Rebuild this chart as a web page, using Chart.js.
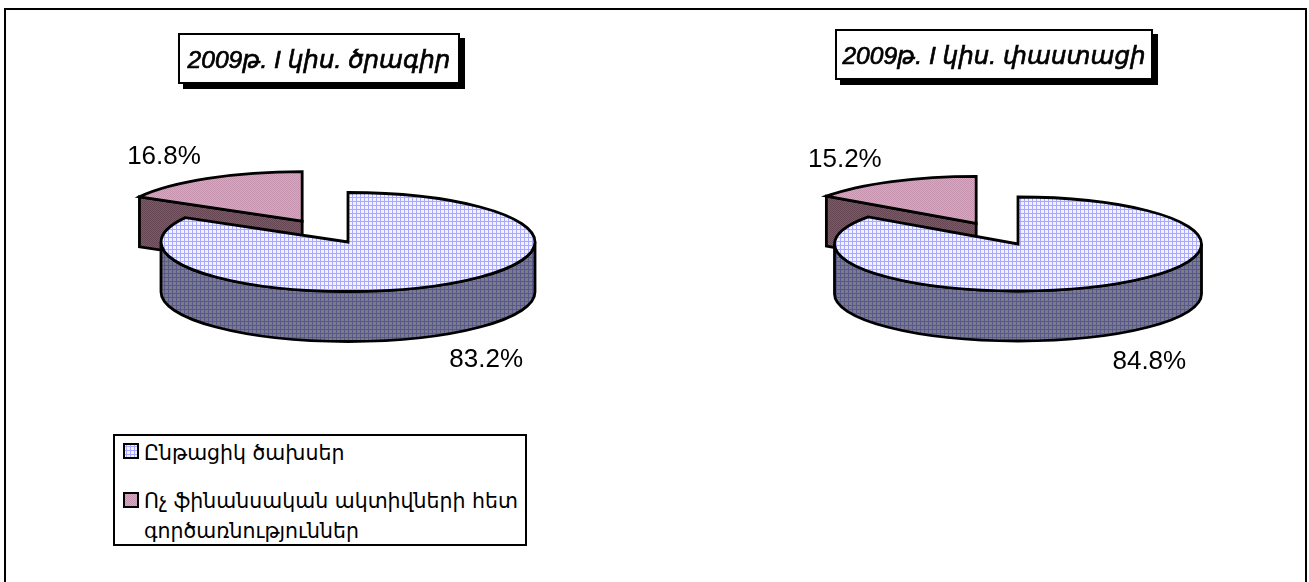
<!DOCTYPE html>
<html lang="hy">
<head>
<meta charset="utf-8">
<title>2009թ. I կիս.</title>
<script src="https://cdn.jsdelivr.net/npm/chart.js@4"></script>
<style>
  html, body { margin: 0; padding: 0; background: #fff; width: 1309px; height: 582px; overflow: hidden; }
  #frame { position: absolute; left: 4px; top: 8px; width: 1299px; height: 600px; border: 2px solid #000; }
  canvas { position: absolute; }
  .title { position: absolute; box-sizing: border-box; background: #fff; border: 2px solid #000;
           box-shadow: 5px 5px 0 #000; font: italic 24.6px "Liberation Sans", "DejaVu Sans", sans-serif; -webkit-text-stroke: 0.7px #000;
           color: #000; white-space: nowrap; text-align: center; }
  #legend { position: absolute; left: 113px; top: 434px; width: 414px; height: 112px; box-sizing: border-box;
            border: 2px solid #000; background: #fff; color: #000; font: 20.5px "DejaVu Sans", sans-serif; }
  #legend .swatch { position: absolute; left: 8px; width: 12px; height: 12px; border: 2px solid #000; }
  #legend .text { position: absolute; left: 29px; white-space: nowrap; line-height: 30px; }
</style>
</head>
<body>
<div id="frame"></div>
<canvas id="pieA" width="698" height="484" style="left:-1px;top:0"></canvas>
<canvas id="pieB" width="582" height="488" style="left:727px;top:0"></canvas>
<div class="title" id="titleA" style="left:178px;top:33px;width:282px;height:51px;line-height:49px"></div>
<div class="title" id="titleB" style="left:835px;top:29px;width:318px;height:51px;line-height:49px"></div>
<div id="legend"></div>
<script>
const categories = ["Ընթացիկ ծախսեր", "Ոչ ֆինանսական ակտիվների հետ գործառնություններ"];
const legendLines = [["Ընթացիկ ծախսեր"], ["Ոչ ֆինանսական ակտիվների հետ", "գործառնություններ"]];
const plannedValues = [83.2, 16.8];
const actualValues = [84.8, 15.2];
const plannedTitle = "2009թ. I կիս. ծրագիր";
const actualTitle = "2009թ. I կիս. փաստացի";

// Small repeating tiles that give the slices their printed, hatched look.
function tile(size, paint) {
  const c = document.createElement("canvas");
  c.width = c.height = size;
  paint(c.getContext("2d"));
  return c;
}
function gridTile(base, line) {
  return tile(4, g => {
    g.fillStyle = base; g.fillRect(0, 0, 4, 4);
    g.fillStyle = line; g.fillRect(1, 0, 1, 4); g.fillRect(0, 1, 4, 1);
  });
}
function ditherTile(a, b) {
  return tile(2, g => {
    g.fillStyle = a; g.fillRect(0, 0, 2, 2);
    g.fillStyle = b; g.fillRect(0, 0, 1, 1); g.fillRect(1, 1, 1, 1);
  });
}
const tiles = {
  blueTop: gridTile("#f1f1ff", "#a9a9ff"),
  blueSide: gridTile("#7b7b8f", "#58588a"),
  pinkTop: ditherTile("#c593ae", "#d6a9c0"),
  pinkSide: ditherTile("#664553", "#7b5a69")
};
const pattern = (ctx, t) => ctx.createPattern(t, "repeat");

// Draws the arcs computed by the pie controller as a tilted disc with a rim.
const tiltedPie = {
  id: "tiltedPie",
  beforeDatasetDraw(chart, args, opts) {
    const ctx = chart.ctx;
    const arcs = chart.getDatasetMeta(args.index).data;
    const k = opts.tilt, depth = opts.depth;
    const ds = chart.data.datasets[args.index];

    const place = arc => {
      const o = arc.options.offset || 0;
      const mid = (arc.startAngle + arc.endAngle) / 2;
      return { x: arc.x + Math.cos(mid) * o, y: arc.y + Math.sin(mid) * o * k, r: arc.outerRadius, mid };
    };
    const rim = (p, a) => ({ x: p.x + Math.cos(a) * p.r, y: p.y + Math.sin(a) * p.r * k });
    const finish = fill => {
      ctx.fillStyle = fill; ctx.fill();
      ctx.lineWidth = 2.8; ctx.lineJoin = "miter"; ctx.strokeStyle = "#000"; ctx.stroke();
    };
    const wall = (p, a, fill) => {
      const e = rim(p, a);
      ctx.beginPath();
      ctx.moveTo(p.x, p.y); ctx.lineTo(e.x, e.y);
      ctx.lineTo(e.x, e.y + depth); ctx.lineTo(p.x, p.y + depth);
      ctx.closePath();
      finish(fill);
    };

    // Exploded slices sit behind the main disc, so they are painted first.
    const order = arcs.map((a, i) => i).sort((i, j) => (arcs[j].options.offset || 0) - (arcs[i].options.offset || 0));
    order.forEach(i => {
      const arc = arcs[i], p = place(arc), s = arc.startAngle, e = arc.endAngle;
      const sideFill = pattern(ctx, tiles[ds.sideTiles[i]]);
      if (Math.cos(s) < -1e-6) wall(p, s, sideFill);
      if (Math.cos(e) > 1e-6) wall(p, e, sideFill);
      const from = Math.max(s, 0), to = Math.min(e, Math.PI);
      if (to > from) {
        ctx.save();
        ctx.beginPath();
        ctx.translate(p.x, p.y); ctx.scale(1, k);
        ctx.arc(0, 0, p.r, from, to);
        ctx.scale(1, 1 / k); ctx.translate(0, depth); ctx.scale(1, k);
        ctx.arc(0, 0, p.r, to, from, true);
        ctx.closePath();
        ctx.restore();
        finish(sideFill);
      }
      ctx.save();
      ctx.beginPath();
      ctx.translate(p.x, p.y); ctx.scale(1, k);
      ctx.moveTo(0, 0);
      ctx.arc(0, 0, p.r, s, e);
      ctx.closePath();
      ctx.restore();
      finish(arc.options.backgroundColor);
    });

    // Percent labels sit just outside the rim, along each slice's middle direction.
    ctx.font = opts.labelFont;
    ctx.fillStyle = "#000";
    ctx.textAlign = "center";
    ctx.textBaseline = "alphabetic";
    arcs.forEach((arc, i) => {
      const p = place(arc), q = rim(p, p.mid);
      const front = Math.sin(p.mid) > 0;
      const lx = q.x + (Math.cos(p.mid) > 0 ? 1 : -1) * opts.labelGapX;
      const ly = q.y + (front ? depth + opts.labelGapY : -opts.labelGapY) + 9;
      ctx.fillText(ds.data[i].toFixed(1) + "%", lx, ly);
    });
    return false;
  }
};

function makePie(id, values, radius, tilt, depth, burst, gapX, gapY) {
  const ctx = document.getElementById(id).getContext("2d");
  return new Chart(ctx, {
    type: "pie",
    data: {
      labels: categories,
      datasets: [{
        data: values,
        backgroundColor: [pattern(ctx, tiles.blueTop), pattern(ctx, tiles.pinkTop)],
        sideTiles: ["blueSide", "pinkSide"],
        offset: [0, burst],
        borderWidth: 0
      }]
    },
    options: {
      responsive: false,
      animation: false,
      radius: radius,
      layout: { padding: 0 },
      plugins: {
        legend: { display: false },
        tooltip: { enabled: false },
        tiltedPie: { tilt, depth, labelFont: '26px "Liberation Sans", Arial, sans-serif', labelGapX: gapX, labelGapY: gapY }
      }
    },
    plugins: [tiltedPie]
  });
}

makePie("pieA", plannedValues, 187, 49.5 / 187, 50, 91, 44, 23);
makePie("pieB", actualValues, 183.5, 47 / 183.5, 50, 91, 47, 24);

document.getElementById("titleA").textContent = plannedTitle;
document.getElementById("titleB").textContent = actualTitle;

// Legend box with swatches in the same fills as the slices.
const swatchTiles = [tiles.blueTop, tiles.pinkTop];
const swatchTops = [7, 56];
const textTops = [2, 50];
const legend = document.getElementById("legend");
legendLines.forEach((lines, i) => {
  const sw = document.createElement("div");
  sw.className = "swatch";
  sw.style.top = swatchTops[i] + "px";
  sw.style.backgroundImage = "url(" + swatchTiles[i].toDataURL() + ")";
  legend.appendChild(sw);
  const t = document.createElement("div");
  t.className = "text";
  t.style.top = textTops[i] + "px";
  t.innerHTML = lines.join("<br>");
  legend.appendChild(t);
});
</script>
</body>
</html>
